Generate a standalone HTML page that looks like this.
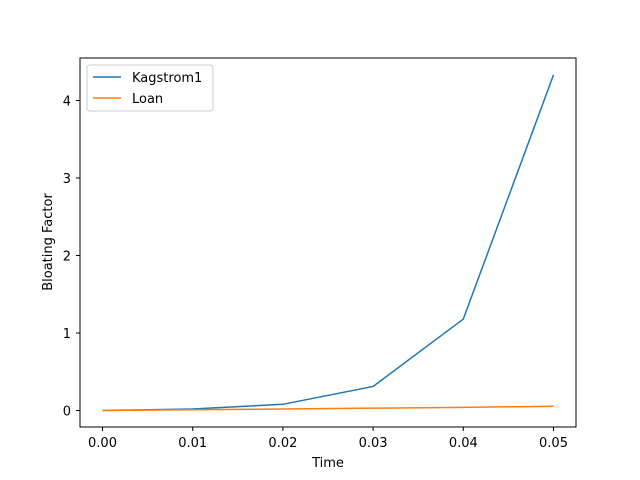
<!DOCTYPE html>
<html><head><meta charset="utf-8"><style>body{margin:0;background:#fff}svg{display:block;font-family:"DejaVu Sans","Liberation Sans",sans-serif}</style></head>
<body>
<svg id="chart" width="640" height="480">
<rect x="80" y="58" width="496" height="369" fill="#fff" stroke="#000" stroke-width="1"/>
<g id="marks"></g>
<g id="axes"></g>
<text x="328" y="467" font-size="13" text-anchor="middle">Time</text>
<text transform="translate(52,242) rotate(-90)" font-size="13" text-anchor="middle">Bloating Factor</text>
<g>
<rect x="87" y="65" width="126" height="46" rx="3" fill="#fff" stroke="#ccc"/>
<line x1="93" y1="77" x2="121" y2="77" stroke="#1f77b4" stroke-width="1.5"/>
<text x="132" y="82" font-size="13">Kagstrom1</text>
<line x1="93" y1="98" x2="121" y2="98" stroke="#ff7f0e" stroke-width="1.5"/>
<text x="132" y="103" font-size="13">Loan</text>
</g>
</svg>
<script>
const times=[0,0.01,0.02,0.03,0.04,0.05];
const kagstrom1=[0,0.02,0.08,0.31,1.18,4.33];
const loan=[0,0.01,0.02,0.03,0.04,0.055];
const xTicks=[0,0.01,0.02,0.03,0.04,0.05];
const xTickLabels=["0.00","0.01","0.02","0.03","0.04","0.05"];
const yTicks=[0,1,2,3,4];
const NS="http://www.w3.org/2000/svg";
const xs=v=>102.5+v*9020;
const ys=v=>410.5-v*77.5;
const marks=document.getElementById('marks'),axes=document.getElementById('axes');
function series(vals,color,name){
 const p=document.createElementNS(NS,'polyline');
 p.setAttribute('points',vals.map((v,i)=>xs(times[i])+','+ys(v)).join(' '));
 p.setAttribute('fill','none');p.setAttribute('stroke',color);p.setAttribute('stroke-width','1.5');
 
 
 marks.appendChild(p);
}
series(kagstrom1,'#1f77b4','kagstrom1-line');
series(loan,'#ff7f0e','loan-line');
xTicks.forEach((t,i)=>{
 const l=document.createElementNS(NS,'line');
 l.setAttribute('x1',xs(t));l.setAttribute('x2',xs(t));l.setAttribute('y1',427);l.setAttribute('y2',431);l.setAttribute('stroke','#000');
 
 
 axes.appendChild(l);
 const tx=document.createElementNS(NS,'text');
 tx.setAttribute('x',xs(t));tx.setAttribute('y',447);tx.setAttribute('font-size','13');tx.setAttribute('text-anchor','middle');
 tx.textContent=xTickLabels[i];
 
 
 axes.appendChild(tx);
});
yTicks.forEach(t=>{
 const l=document.createElementNS(NS,'line');
 l.setAttribute('x1',76);l.setAttribute('x2',80);l.setAttribute('y1',ys(t));l.setAttribute('y2',ys(t));l.setAttribute('stroke','#000');
 
 
 axes.appendChild(l);
 const tx=document.createElementNS(NS,'text');
 tx.setAttribute('x',71);tx.setAttribute('y',ys(t)+5);tx.setAttribute('font-size','13');tx.setAttribute('text-anchor','end');
 tx.textContent=String(t);
 
 
 axes.appendChild(tx);
});
</script>
</body></html>
